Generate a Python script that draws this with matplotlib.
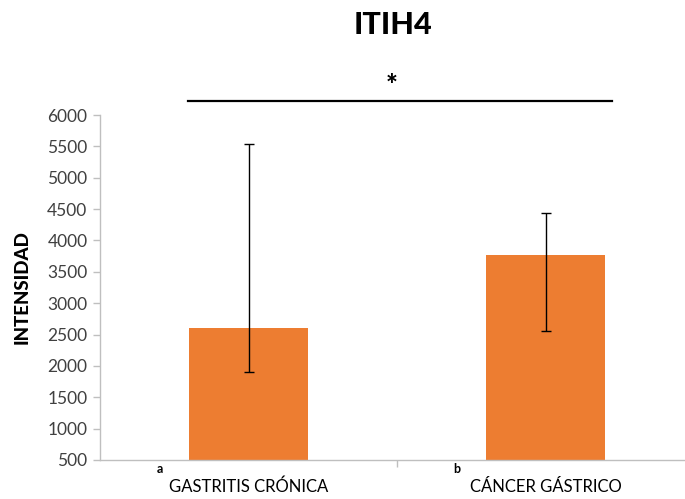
import matplotlib
matplotlib.use("Agg")
import matplotlib.pyplot as plt

categories = ["GASTRITIS CRÓNICA", "CÁNCER GÁSTRICO"]
letters = ["a", "b"]
values = [2600, 3770]
err_low = [1900, 2555]
err_high = [5530, 4430]
yticks = list(range(500, 6001, 500))
title = "ITIH4"
ylabel = "INTENSIDAD"
sig_mark = "*"

W, H = 685, 499
fig = plt.figure(figsize=(W / 100, H / 100), dpi=100)
plt.rcParams['font.family'] = ['Lato', 'DejaVu Sans']
ax = fig.add_axes([100 / W, (H - 460) / H, 594 / W, 345 / H])

x = list(range(len(categories)))
yerr = [[v - lo for v, lo in zip(values, err_low)],
        [hi - v for v, hi in zip(values, err_high)]]
ax.bar(x, [v - 500 for v in values], bottom=500, width=0.4, color="#ED7D31", zorder=2)
ax.errorbar(x, values, yerr=yerr, fmt="none", ecolor="black", elinewidth=1.0,
            capsize=3.6, capthick=1.0, zorder=3)

ax.set_xlim(-0.5, 1.5)
ax.set_ylim(500, 6000)
ax.set_yticks(yticks)
ax.set_yticklabels([str(t) for t in yticks], fontsize=12.5, color="#404040")
ax.set_xticks([0.5])
ax.set_xticklabels([""])
ax.tick_params(axis="y", length=5, color="#BFBFBF", width=1, pad=4)
ax.tick_params(axis="x", length=5, color="#BFBFBF", width=1)
for s in ["top", "right"]:
    ax.spines[s].set_visible(False)
for s in ["left", "bottom"]:
    ax.spines[s].set_color("#BFBFBF")
    ax.spines[s].set_linewidth(1)

trans = ax.get_xaxis_transform()
for i, (c, l) in enumerate(zip(categories, letters)):
    ax.text(i, -0.055, c, transform=trans, ha="center", va="top", fontsize=12, color="black")
    ax.text(i - 0.31, -0.01, l, transform=trans, ha="left", va="top", fontsize=9,
            fontweight="bold", color="black")

ax.set_ylabel(ylabel, fontsize=13.5, fontweight="black", labelpad=12)

fig.text(393 / W, 1 - 25 / H, title, ha="center", va="center", fontsize=22, fontweight="black")
fig.add_artist(plt.Line2D([188 / W, 612 / W], [1 - 101 / H, 1 - 101 / H], color="black", lw=1.6))
fig.text(392 / W, 1 - 86 / H, sig_mark, ha="center", va="center", fontsize=20, fontweight="black")

fig.savefig("out.png", dpi=100)
